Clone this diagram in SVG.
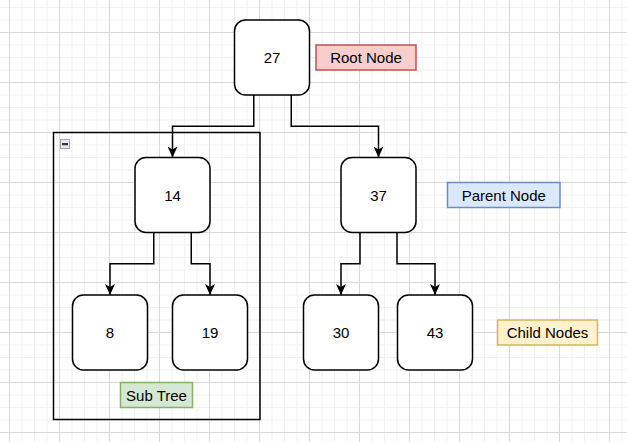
<svg xmlns="http://www.w3.org/2000/svg" width="627" height="442" viewBox="0 0 627 442">
<style>
.node rect{fill:#fff;stroke:#000;stroke-width:1.5}
text{font-family:"Liberation Sans",Arial,Helvetica,sans-serif;font-size:15px;fill:#000;text-anchor:middle}
.conn path{fill:none;stroke:#000;stroke-width:1.5}
.lbl rect{stroke-width:1.5}
</style>
<defs>
<pattern id="minor" patternUnits="userSpaceOnUse" x="9" y="32" width="12.5" height="12.5">
<path d="M0.5,0 V12.5 M0,0.5 H12.5" stroke="#f0f0f0" stroke-width="1" fill="none"/>
</pattern>
<pattern id="major" patternUnits="userSpaceOnUse" x="9" y="32" width="50" height="50">
<path d="M0.5,0 V50 M0,0.5 H50" stroke="#d8d8d8" stroke-width="1" fill="none"/>
</pattern>
<marker id="arr" viewBox="0 0 11 10" refX="11" refY="5" markerWidth="11" markerHeight="10" markerUnits="userSpaceOnUse" orient="auto">
<path d="M0,0 L11,5 L0,10 L3,5 Z" fill="#000"/>
</marker>
</defs>
<rect width="627" height="442" fill="#fff"/>
<rect width="627" height="442" fill="url(#minor)"/>
<rect width="627" height="442" fill="url(#major)"/>

<g id="subtree">
<rect x="53.5" y="132.5" width="206.5" height="287" fill="none" stroke="#000" stroke-width="1.5"/>
<rect x="60.5" y="139.5" width="9" height="9" fill="#e3e8ef" stroke="#9aa7b6" stroke-width="1"/>
<rect x="62" y="143" width="6" height="2.2" fill="#333"/>
</g>

<g class="conn" id="connectors">
<path d="M253.75,95 V126.25 H172.5 V157.5" marker-end="url(#arr)"/>
<path d="M291.25,95 V126.25 H378.5 V157.5" marker-end="url(#arr)"/>
<path d="M153.75,232.5 V263.75 H110 V295" marker-end="url(#arr)"/>
<path d="M191.25,232.5 V263.75 H210 V295" marker-end="url(#arr)"/>
<path d="M360,232.5 V263.75 H341 V295" marker-end="url(#arr)"/>
<path d="M397,232.5 V263.75 H435 V295" marker-end="url(#arr)"/>
</g>

<g class="node" id="n27"><rect x="234.5" y="20" width="75" height="75" rx="11"/><text x="272" y="63">27</text></g>
<g class="node" id="n14"><rect x="135" y="157.5" width="75" height="75" rx="11"/><text x="172.5" y="200.5">14</text></g>
<g class="node" id="n37"><rect x="341" y="157.5" width="75" height="75" rx="11"/><text x="378.5" y="200.5">37</text></g>
<g class="node" id="n8"><rect x="72.5" y="295" width="75" height="75" rx="11"/><text x="110" y="338">8</text></g>
<g class="node" id="n19"><rect x="172.5" y="295" width="75" height="75" rx="11"/><text x="210" y="338">19</text></g>
<g class="node" id="n30"><rect x="303.5" y="295" width="75" height="75" rx="11"/><text x="341" y="338">30</text></g>
<g class="node" id="n43"><rect x="397.5" y="295" width="75" height="75" rx="11"/><text x="435" y="338">43</text></g>

<g class="lbl" id="rootlabel"><rect x="316" y="45" width="100" height="25" fill="#f8cecc" stroke="#b85450"/><text x="366" y="63">Root Node</text></g>
<g class="lbl" id="parentlabel"><rect x="447.5" y="182.5" width="112.5" height="25" fill="#dae8fc" stroke="#6c8ebf"/><text x="503.75" y="200.5">Parent Node</text></g>
<g class="lbl" id="childlabel"><rect x="497.5" y="320" width="100" height="25" fill="#fff2cc" stroke="#d6b656"/><text x="547.5" y="338">Child Nodes</text></g>
<g class="lbl" id="subtreelabel"><rect x="120.5" y="382.5" width="72" height="25" fill="#d5e8d4" stroke="#82b366"/><text x="156.5" y="400.5">Sub Tree</text></g>
</svg>
